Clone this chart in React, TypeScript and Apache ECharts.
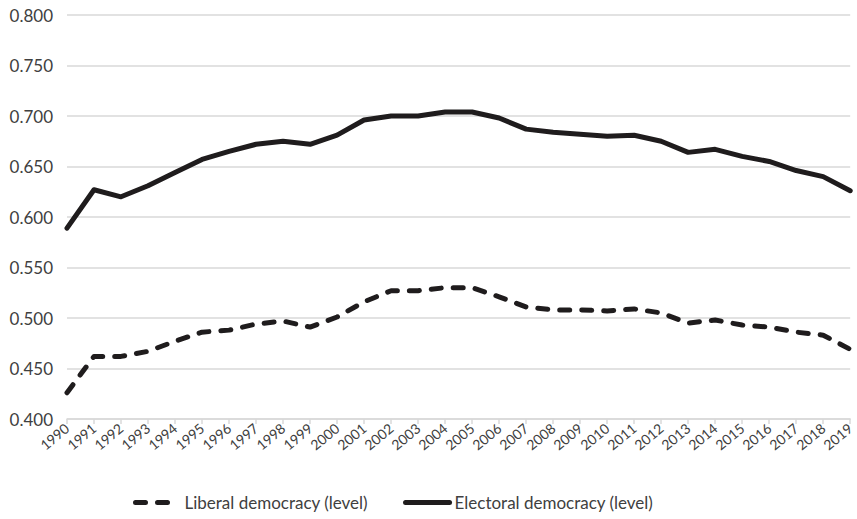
import React, { useEffect, useRef } from "react";
import * as echarts from "echarts";

const years = [
  "1990", "1991", "1992", "1993", "1994", "1995", "1996", "1997", "1998", "1999",
  "2000", "2001", "2002", "2003", "2004", "2005", "2006", "2007", "2008", "2009",
  "2010", "2011", "2012", "2013", "2014", "2015", "2016", "2017", "2018", "2019",
];

const liberalDemocracy = [
  0.426, 0.462, 0.462, 0.467, 0.477, 0.486, 0.488, 0.494, 0.497, 0.491,
  0.501, 0.516, 0.527, 0.527, 0.530, 0.530, 0.521, 0.511, 0.508, 0.508,
  0.507, 0.509, 0.505, 0.495, 0.498, 0.493, 0.491, 0.486, 0.483, 0.469,
];

const electoralDemocracy = [
  0.589, 0.627, 0.620, 0.631, 0.644, 0.657, 0.665, 0.672, 0.675, 0.672,
  0.681, 0.696, 0.700, 0.700, 0.704, 0.704, 0.698, 0.687, 0.684, 0.682,
  0.680, 0.681, 0.675, 0.664, 0.667, 0.660, 0.655, 0.646, 0.640, 0.626,
];

const seriesNames = ["Liberal democracy (level)", "Electoral democracy (level)"];

export default function App() {
  const ref = useRef<HTMLDivElement>(null);

  useEffect(() => {
    if (!ref.current) return;
    const chart = echarts.init(ref.current, null, { renderer: "svg" });
    const font = "Lato, 'Noto Sans', sans-serif";
    chart.setOption({
      animation: false,
      backgroundColor: "#ffffff",
      grid: { left: 67, right: 2, top: 15, bottom: 100, containLabel: false },
      legend: {
        left: 128,
        top: 489,
        itemWidth: 44,
        itemHeight: 2,
        itemGap: 35,
        lineStyle: { width: 5, cap: "round" },
        textStyle: { fontFamily: font, fontSize: 17, color: "#404040" },
        data: seriesNames,
      },
      xAxis: {
        type: "category",
        boundaryGap: false,
        data: years,
        axisLine: { lineStyle: { color: "#d9d9d9", width: 1.5 } },
        axisTick: { show: true, length: 5, lineStyle: { color: "#d9d9d9", width: 1.5 } },
        axisLabel: {
          interval: 0,
          rotate: 40,
          margin: 7,
          fontFamily: font,
          fontSize: 14,
          color: "#404040",
        },
        splitLine: { show: false },
      },
      yAxis: {
        type: "value",
        min: 0.4,
        max: 0.8,
        interval: 0.05,
        axisLine: { show: false },
        axisTick: { show: false },
        axisLabel: {
          margin: 14,
          fontFamily: font,
          fontSize: 17,
          color: "#404040",
          formatter: (v: number) => v.toFixed(3),
        },
        splitLine: { lineStyle: { color: "#d9d9d9", width: 1.5 } },
      },
      series: [
        {
          name: seriesNames[0],
          type: "line",
          data: liberalDemocracy,
          showSymbol: false,
          symbol: "none",
          lineStyle: { color: "#1f1c1d", width: 5, type: [10, 12], cap: "round", join: "round" },
          itemStyle: { color: "#1f1c1d" },
        },
        {
          name: seriesNames[1],
          type: "line",
          data: electoralDemocracy,
          showSymbol: false,
          symbol: "none",
          lineStyle: { color: "#1f1c1d", width: 5, type: "solid", cap: "round", join: "round" },
          itemStyle: { color: "#1f1c1d" },
        },
      ],
    });
    return () => chart.dispose();
  }, []);

  return <div ref={ref} style={{ width: 857, height: 519, position: "absolute", left: 0, top: 0 }} />;
}
